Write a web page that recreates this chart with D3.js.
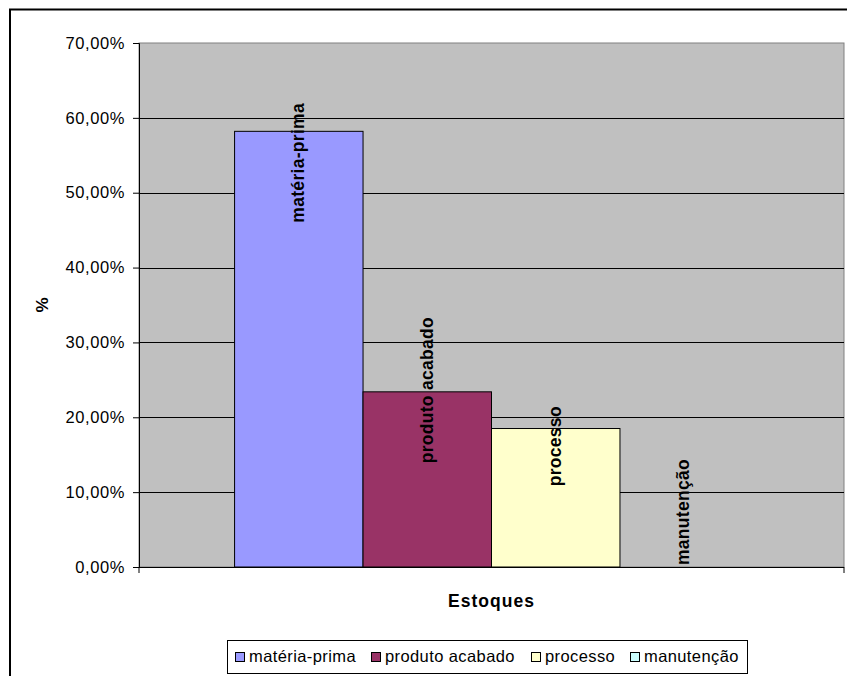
<!DOCTYPE html>
<html>
<head>
<meta charset="utf-8">
<script src="https://cdn.jsdelivr.net/npm/d3@7"></script>
<style>
  html, body { margin: 0; padding: 0; background: #fff; }
  svg { display: block; font-family: Arial, "Liberation Sans", sans-serif; }
</style>
</head>
<body>
<svg id="chart" width="847" height="676"></svg>
<script>
// Inventory share by type (one category, four series)
const categories = ["Estoques"];
const seriesNames = ["matéria-prima", "produto acabado", "processo", "manutenção"];
const seriesValues = [0.582, 0.234, 0.185, 0.0];
const seriesColors = ["#9999FF", "#993366", "#FFFFCC", "#CCFFFF"];
const yTicks = [0, 0.1, 0.2, 0.3, 0.4, 0.5, 0.6, 0.7];

const svg = d3.select("#chart");
const W = 847, H = 676;

// chart frame (extends past the window edges)
svg.append("rect")
  .attr("x", 10).attr("y", 9.5)
  .attr("width", W + 20).attr("height", H + 20)
  .attr("fill", "#fff").attr("stroke", "#000").attr("stroke-width", 2);

const plot = { left: 139, top: 43, right: 844, bottom: 567 };

const y = d3.scaleLinear().domain([0, 0.7]).range([plot.bottom, plot.top]);
const x0 = d3.scaleBand().domain(categories)
  .range([plot.left, plot.right]).paddingInner(0).paddingOuter(0.186);
const x1 = d3.scaleBand().domain(seriesNames).range([0, x0.bandwidth()]);

// plot area background
svg.append("rect")
  .attr("x", plot.left).attr("y", plot.top)
  .attr("width", plot.right - plot.left).attr("height", plot.bottom - plot.top)
  .attr("fill", "#C0C0C0").attr("stroke", "#808080").attr("stroke-width", 1);

// horizontal gridlines
svg.append("g").selectAll("line")
  .data(yTicks.filter(d => d > 0 && d < 0.7))
  .join("line")
  .attr("x1", plot.left).attr("x2", plot.right)
  .attr("y1", d => Math.round(y(d)) + 0.5).attr("y2", d => Math.round(y(d)) + 0.5)
  .attr("stroke", "#000").attr("stroke-width", 1);

// bars
const rows = seriesNames.map((s, i) => ({ name: s, value: seriesValues[i], color: seriesColors[i] }));
const group = svg.append("g").attr("transform", `translate(${x0(categories[0])},0)`);
group.selectAll("rect")
  .data(rows)
  .join("rect")
  .attr("x", d => x1(d.name))
  .attr("y", d => y(d.value))
  .attr("width", x1.bandwidth())
  .attr("height", d => y(0) - y(d.value))
  .attr("fill", d => d.color)
  .attr("stroke", "#000").attr("stroke-width", 1)
  .attr("display", d => d.value > 0 ? null : "none");

// series-name labels, rotated, placed near each bar top
const labelNudge = [31.5, -1.7, 17.7, -55];
group.selectAll("text.lbl")
  .data(rows)
  .join("text")
  .attr("class", "lbl")
  .attr("transform", (d, i) =>
    `translate(${x1(d.name) + x1.bandwidth() / 2},${y(d.value) + labelNudge[i]}) rotate(-90)`)
  .attr("text-anchor", "middle")
  .attr("dy", "0.3em")
  .attr("font-size", 17.5)
  .attr("font-weight", "bold")
  .attr("letter-spacing", 0.3)
  .attr("fill", "#000")
  .text(d => d.name);

// y axis
const ptBR = d3.formatLocale({ decimal: ",", thousands: ".", grouping: [3], currency: ["R$", ""] });
const fmt = ptBR.format(".2%");
const yAxis = svg.append("g")
  .attr("transform", `translate(${plot.left},0)`)
  .call(d3.axisLeft(y).tickValues(yTicks).tickFormat(fmt).tickSize(6).tickPadding(8));
yAxis.select(".domain").attr("stroke", "#000");
yAxis.selectAll(".tick line").attr("stroke", "#000");
yAxis.selectAll(".tick text")
  .attr("font-size", 16.5).attr("letter-spacing", 0.6)
  .attr("fill", "#000").attr("font-family", "Arial, 'Liberation Sans', sans-serif");

// x axis baseline and end ticks
svg.append("line")
  .attr("x1", plot.left).attr("x2", plot.right)
  .attr("y1", plot.bottom + 0.5).attr("y2", plot.bottom + 0.5)
  .attr("stroke", "#000");
svg.append("g").selectAll("line")
  .data(x0.range())
  .join("line")
  .attr("x1", d => d).attr("x2", d => d)
  .attr("y1", plot.bottom).attr("y2", plot.bottom + 6)
  .attr("stroke", "#000");

// axis titles
svg.append("text")
  .attr("x", (plot.left + plot.right) / 2).attr("y", 607)
  .attr("text-anchor", "middle")
  .attr("font-size", 17.5).attr("font-weight", "bold").attr("letter-spacing", 1)
  .text("Estoques");
svg.append("text")
  .attr("transform", `translate(48,305) rotate(-90)`)
  .attr("text-anchor", "middle")
  .attr("font-size", 17).attr("font-weight", "bold")
  .text("%");

// legend
const legend = svg.append("g");
const lgTop = 640, lgH = 33, lgLeft = 227, lgRight = 747, lgPad = 8;
legend.append("rect")
  .attr("x", lgLeft + 0.5).attr("y", lgTop + 0.5)
  .attr("width", lgRight - lgLeft).attr("height", lgH)
  .attr("fill", "#fff").attr("stroke", "#000").attr("stroke-width", 1);
const items = legend.selectAll("g.item").data(rows).join("g").attr("class", "item");
const widths = [];
items.each(function (d) {
  const g = d3.select(this);
  g.append("rect")
    .attr("x", 0.5).attr("y", lgTop + 12.5).attr("width", 9).attr("height", 9)
    .attr("fill", d.color).attr("stroke", "#000").attr("stroke-width", 1);
  const t = g.append("text")
    .attr("x", 14).attr("y", lgTop + 22)
    .attr("font-size", 16.5).attr("letter-spacing", 0.4)
    .text(d.name);
  widths.push(14 + t.node().getComputedTextLength());
});
const gap = (lgRight - lgLeft - 2 * lgPad - d3.sum(widths)) / (rows.length - 1);
let pos = lgLeft + lgPad;
items.attr("transform", (d, i) => {
  const tx = pos;
  pos += widths[i] + gap;
  return `translate(${Math.round(tx)},0)`;
});
</script>
</body>
</html>
